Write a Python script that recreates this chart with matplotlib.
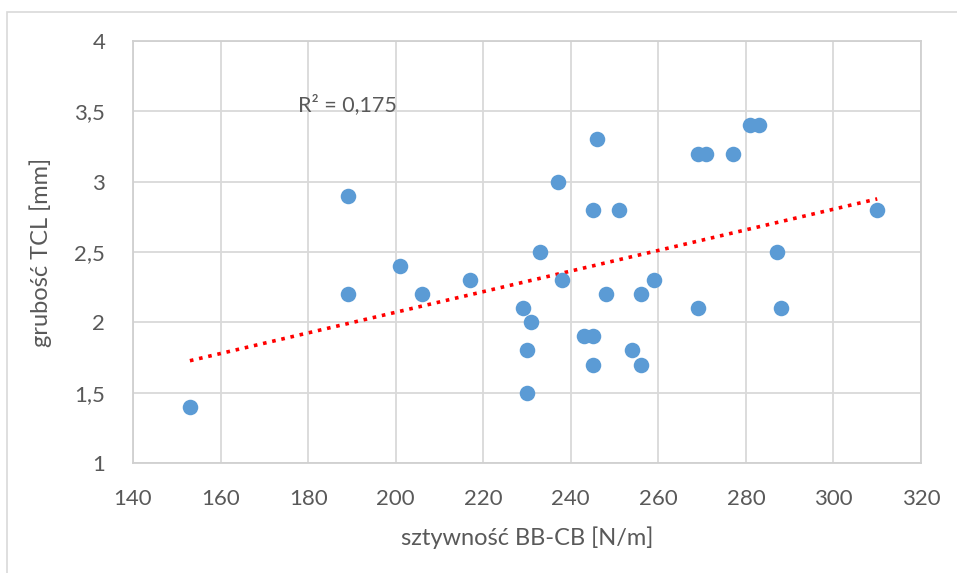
import matplotlib
matplotlib.use('Agg')
import matplotlib.pyplot as plt
from matplotlib.patches import Rectangle
from matplotlib.ticker import FuncFormatter
import numpy as np

# sztywność BB-CB [N/m] vs grubość TCL [mm]
stiffness = [153, 189, 189, 201, 206, 217, 229, 231, 230, 230, 233, 237, 238,
             246, 245, 251, 248, 256, 259, 243, 245, 254, 245, 256, 269,
             269, 271, 277, 281, 283, 287, 288, 310]
thickness = [1.4, 2.9, 2.2, 2.4, 2.2, 2.3, 2.1, 2.0, 1.8, 1.5, 2.5, 3.0, 2.3,
             3.3, 2.8, 2.8, 2.2, 2.2, 2.3, 1.9, 1.9, 1.8, 1.7, 1.7, 2.1,
             3.2, 3.2, 3.2, 3.4, 3.4, 2.5, 2.1, 2.8]
x_ticks = [140, 160, 180, 200, 220, 240, 260, 280, 300, 320]
y_ticks = [1, 1.5, 2, 2.5, 3, 3.5, 4]
r2_label = 'R² = 0,175'

text_color = '#595959'
grid_color = '#D9D9D9'

plt.rcParams['font.family'] = ['Lato', 'DejaVu Sans']

W, H = 957, 573
fig = plt.figure(figsize=(W / 100, H / 100), dpi=100)
ax = fig.add_axes([133 / W, 1 - 463 / H, (921 - 133) / W, (463 - 41) / H])

# outer chart border
fig.patches.append(Rectangle((7 / W, -0.1), 1.2, 1 - 12 / H + 0.1,
                             transform=fig.transFigure, fill=False,
                             edgecolor=grid_color, linewidth=1.2))

x = np.array(stiffness, dtype=float)
y = np.array(thickness, dtype=float)

ax.scatter(x, y, s=125, color='#5B9BD5', zorder=3, linewidths=0)

# linear trendline over the data range
slope, intercept = np.polyfit(x, y, 1)
xs = np.array([x.min(), x.max()])
ax.plot(xs, slope * xs + intercept, color='#FF0000', linestyle=(0, (1, 1.6)),
        linewidth=2.6, zorder=2)

ax.text(189, 3.55, r2_label, fontsize=15.5, color=text_color,
        ha='center', va='center')

ax.set_xlim(140, 320)
ax.set_ylim(1, 4)
ax.set_xticks(x_ticks)
ax.set_yticks(y_ticks)
ax.yaxis.set_major_formatter(FuncFormatter(lambda v, p: f'{v:g}'.replace('.', ',')))
ax.grid(True, color=grid_color, linewidth=1.3)
ax.set_axisbelow(True)
for s in ax.spines.values():
    s.set_color('#D0D0D0')
    s.set_linewidth(1.3)
ax.tick_params(length=0, labelsize=16, labelcolor=text_color)
ax.tick_params(axis='x', pad=19)
ax.tick_params(axis='y', pad=20)

ax.set_xlabel('sztywność BB-CB [N/m]', fontsize=17, color=text_color, labelpad=12)
ax.set_ylabel('grubość TCL [mm]', fontsize=17, color=text_color, labelpad=16)

fig.savefig('out.png', dpi=100)
